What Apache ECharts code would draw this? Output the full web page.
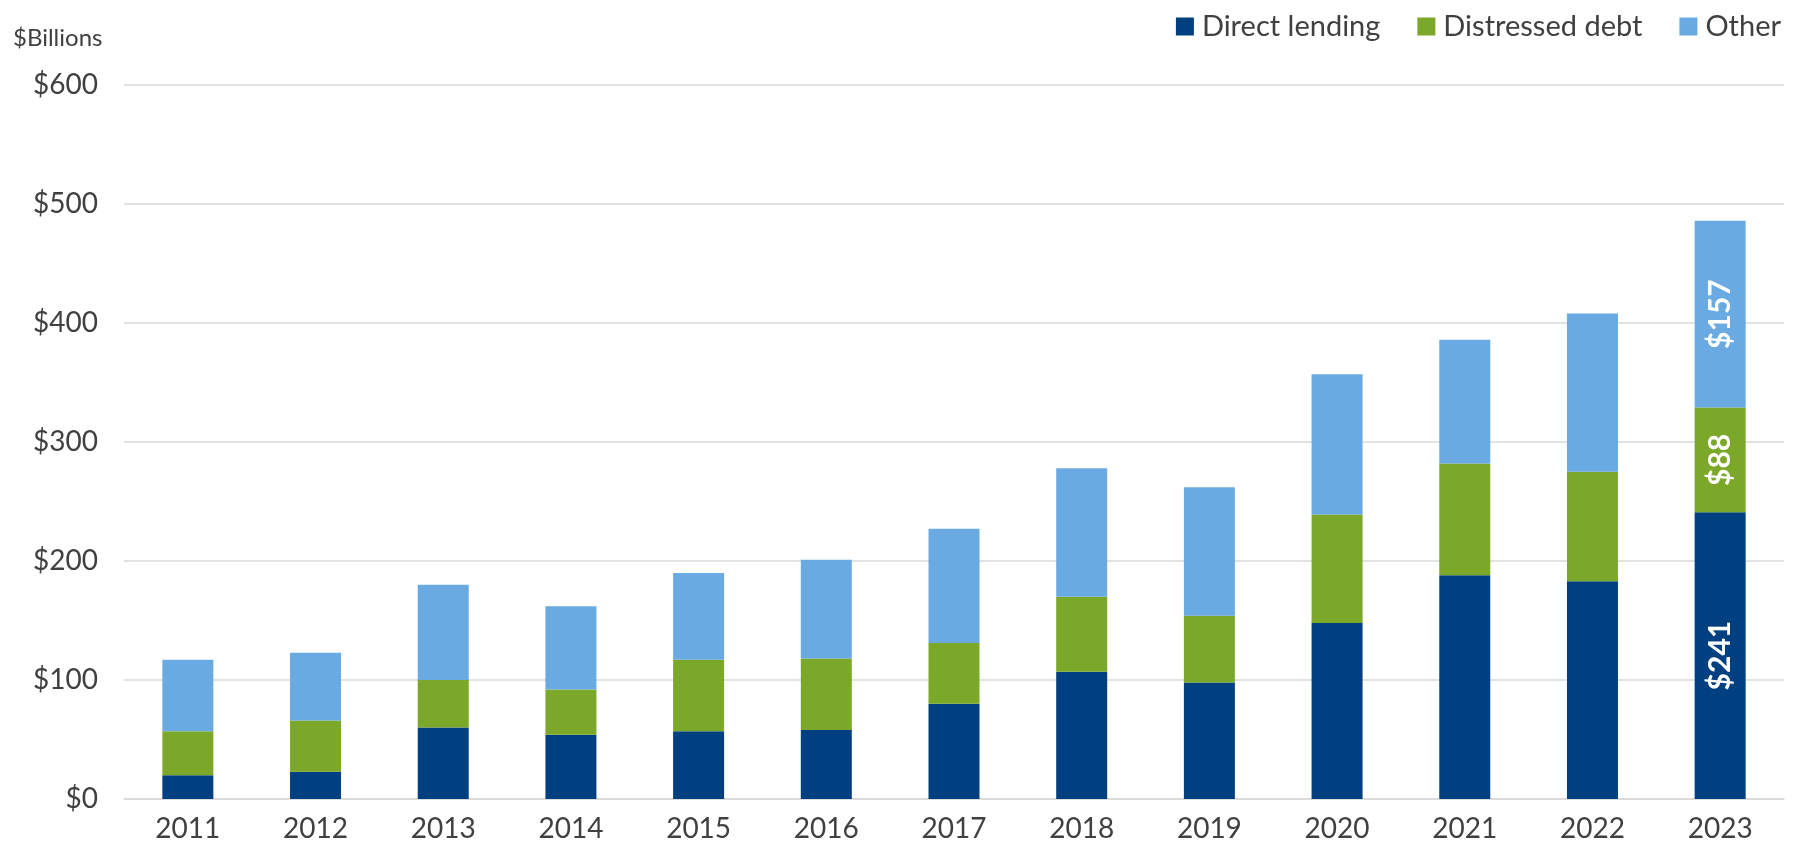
<!DOCTYPE html>
<html>
<head>
<meta charset="utf-8">
<script src="https://cdn.jsdelivr.net/npm/echarts@6/dist/echarts.min.js"></script>
<style>
  html, body { margin: 0; padding: 0; background: #fff; }
  #chart { width: 1808px; height: 854px; }
</style>
</head>
<body>
<div id="chart"></div>
<script>
const years = ['2011', '2012', '2013', '2014', '2015', '2016', '2017', '2018', '2019', '2020', '2021', '2022', '2023'];
const directLending = [20, 23, 60, 54, 57, 58, 80, 107, 98, 148, 188, 183, 241];
const distressedDebt = [37, 43, 40, 38, 60, 60, 51, 63, 56, 91, 94, 92, 88];
const other = [60, 57, 80, 70, 73, 83, 96, 108, 108, 118, 104, 133, 157];

const font = 'Lato';
const textColor = '#404040';

// only the last year carries value labels
function withLastLabel(arr) {
    return arr.map((v, i) => {
        if (i !== arr.length - 1) return v;
        return {
            value: v,
            label: {
                show: true,
                position: 'inside',
                rotate: 90,
                color: '#fff',
                fontWeight: 'bold',
                fontSize: 30,
                fontFamily: font,
                formatter: '${c}'
            }
        };
    });
}

let myChart = echarts.init(document.getElementById('chart'));
let option = {
    animation: false,
    textStyle: { fontFamily: font },
    title: {
        text: '$Billions',
        left: 8,
        top: 21,
        textStyle: { fontSize: 24, fontWeight: 'normal', color: textColor, fontFamily: font }
    },
    legend: {
        right: 22,
        top: 7,
        itemWidth: 18,
        itemHeight: 18,
        itemGap: 37,
        icon: 'rect',
        textStyle: { fontSize: 29, color: textColor, fontFamily: font, padding: [0, 0, 0, 3] },
        data: ['Direct lending', 'Distressed debt', 'Other']
    },
    grid: { left: 124, right: 24, top: 85, bottom: 55 },
    xAxis: {
        type: 'category',
        data: years,
        axisTick: { show: false },
        axisLine: { lineStyle: { color: '#d9d9d9', width: 1.5 } },
        axisLabel: { fontSize: 28, color: textColor, fontFamily: font, margin: 16 }
    },
    yAxis: {
        type: 'value',
        min: 0,
        max: 600,
        interval: 100,
        axisLine: { show: false },
        axisTick: { show: false },
        splitLine: { lineStyle: { color: '#d9d9d9', width: 1.5 } },
        axisLabel: {
            fontSize: 28,
            color: textColor,
            fontFamily: font,
            margin: 26,
            formatter: v => '$' + v
        }
    },
    series: [
        {
            name: 'Direct lending',
            type: 'bar',
            stack: 'total',
            barWidth: 51,
            itemStyle: { color: '#004080' },
            data: withLastLabel(directLending)
        },
        {
            name: 'Distressed debt',
            type: 'bar',
            stack: 'total',
            barWidth: 51,
            itemStyle: { color: '#7ba828' },
            data: withLastLabel(distressedDebt)
        },
        {
            name: 'Other',
            type: 'bar',
            stack: 'total',
            barWidth: 51,
            itemStyle: { color: '#6aaae2' },
            data: withLastLabel(other)
        }
    ]
};
myChart.setOption(option, true);
</script>
</body>
</html>
